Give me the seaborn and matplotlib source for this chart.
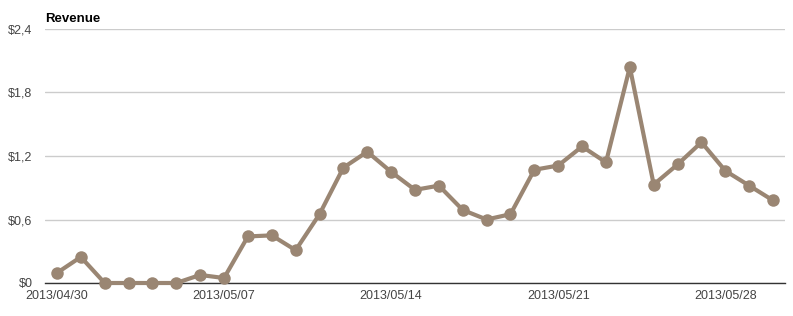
import matplotlib
matplotlib.use("Agg")
import matplotlib.pyplot as plt
import seaborn as sns
import pandas as pd

dates = pd.date_range("2013-04-30", "2013-05-30", freq="D")
revenue = [0.095, 0.246, 0.0, 0.0, 0.0, 0.0, 0.076, 0.047, 0.44, 0.45, 0.31,
           0.65, 1.09, 1.24, 1.05, 0.88, 0.92, 0.69, 0.60, 0.65, 1.07, 1.11,
           1.29, 1.14, 2.04, 0.93, 1.12, 1.33, 1.06, 0.92, 0.78]
y_ticks = [0, 0.6, 1.2, 1.8, 2.4]
y_labels = ["$0", "$0,6", "$1,2", "$1,8", "$2,4"]
x_ticks = ["2013-04-30", "2013-05-07", "2013-05-14", "2013-05-21", "2013-05-28"]
x_labels = ["2013/04/30", "2013/05/07", "2013/05/14", "2013/05/21", "2013/05/28"]

df = pd.DataFrame({"date": dates, "revenue": revenue})

sns.set_style("white")
plt.rcParams["font.family"] = ["Liberation Sans", "DejaVu Sans"]

fig = plt.figure(figsize=(7.93, 3.16), dpi=100)
ax = fig.add_axes([45/793, 1-283/316, (785-45)/793, (283-29)/316])

color = "#9a8673"
sns.lineplot(data=df, x="date", y="revenue", ax=ax, color=color, linewidth=3,
             marker="o", markersize=9, markeredgewidth=0, zorder=3, clip_on=False)

ax.set_ylim(0, 2.4)
ax.set_xlim(dates[0] - pd.Timedelta(hours=12), dates[-1] + pd.Timedelta(hours=12))
ax.set_yticks(y_ticks)
ax.set_yticklabels(y_labels)
ax.set_xticks(pd.to_datetime(x_ticks))
ax.set_xticklabels(x_labels)
ax.tick_params(axis="both", length=0, labelsize=9, colors="#444444")
ax.tick_params(axis="x", pad=5)
ax.tick_params(axis="y", pad=9)

ax.yaxis.grid(True, color="#cccccc", linewidth=1)
ax.set_axisbelow(True)
for s in ["top", "right", "left"]:
    ax.spines[s].set_visible(False)
ax.spines["bottom"].set_color("#333333")
ax.spines["bottom"].set_linewidth(1)
ax.spines["bottom"].set_zorder(2)
ax.set_xlabel("")
ax.set_ylabel("")

fig.text(45/793, 1-19/316, "Revenue", fontsize=9.5, fontweight="bold",
         ha="left", va="center", color="black")

fig.savefig("out.png", dpi=100)
